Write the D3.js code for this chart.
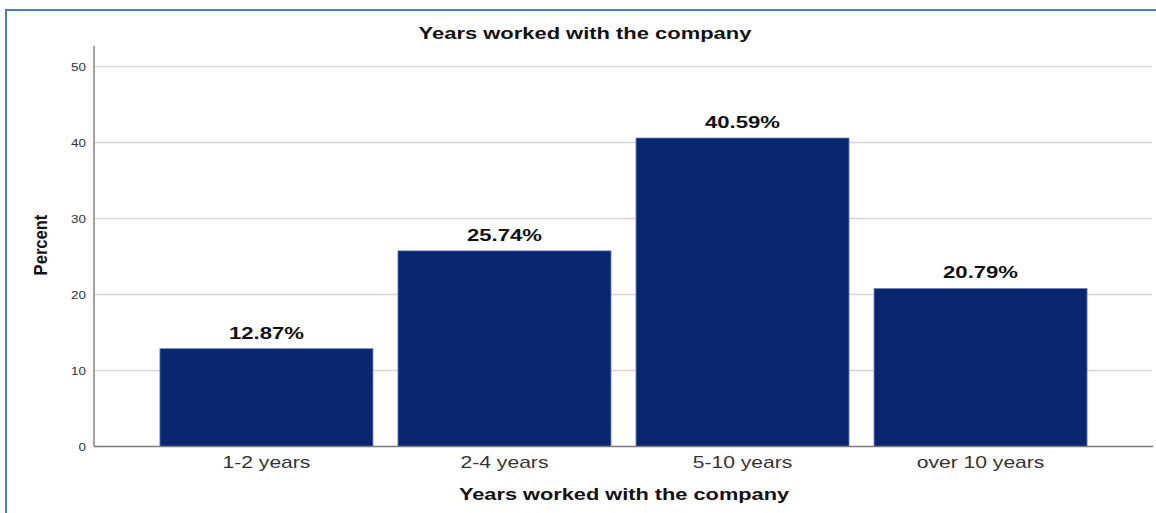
<!DOCTYPE html>
<html>
<head>
<meta charset="utf-8">
<script src="https://cdn.jsdelivr.net/npm/d3@7"></script>
<style>
  html, body { margin: 0; padding: 0; background: #fff; }
  svg { display: block; }
  text { font-family: "Liberation Sans", Arial, sans-serif; }
</style>
</head>
<body>
<svg id="chart" width="1156" height="513"></svg>
<script>
// Share of respondents by tenure with the company
const categories = ["1-2 years", "2-4 years", "5-10 years", "over 10 years"];
const percents = [12.87, 25.74, 40.59, 20.79];
const yTicks = [0, 10, 20, 30, 40, 50];
const chartTitle = "Years worked with the company";
const xTitle = "Years worked with the company";
const yTitle = "Percent";

const svg = d3.select("#chart");
const W = 1156, H = 513;

// widen glyphs horizontally (the chart's text is set in a wide face)
function widen(sel, k) {
  sel.each(function () {
    const len = this.getComputedTextLength();
    d3.select(this).attr("textLength", len * k).attr("lengthAdjust", "spacingAndGlyphs");
  });
}

// frame: blue rule along the top and left
svg.append("line").attr("x1", 5).attr("x2", W).attr("y1", 10).attr("y2", 10)
  .attr("stroke", "#4a7bd0").attr("stroke-width", 2);
svg.append("line").attr("x1", 6).attr("x2", 6).attr("y1", 9).attr("y2", H)
  .attr("stroke", "#4a7bd0").attr("stroke-width", 2);

const plot = { left: 94, right: 1153, top: 46, bottom: 446.5 };

const x = d3.scaleBand()
  .domain(categories)
  .range([plot.left, plot.right])
  .paddingInner(0.105)
  .paddingOuter(0.277);

const y = d3.scaleLinear()
  .domain([0, 50])
  .range([plot.bottom, 66.5]);

// horizontal gridlines
svg.append("g").selectAll("line")
  .data(yTicks.filter(t => t > 0))
  .join("line")
  .attr("x1", plot.left).attr("x2", 1152)
  .attr("y1", d => y(d)).attr("y2", d => y(d))
  .attr("stroke", "#d6d6d6").attr("stroke-width", 1.5);

// y axis with tick labels
const yAxis = svg.append("g")
  .attr("transform", `translate(${plot.left},0)`)
  .call(d3.axisLeft(y).tickValues(yTicks).tickSize(0).tickPadding(8));
yAxis.select(".domain").remove();
yAxis.selectAll("text")
  .attr("font-family", "'Liberation Sans', Arial, sans-serif")
  .attr("font-size", 11).attr("fill", "#333")
  .call(widen, 1.22);
svg.append("line")
  .attr("x1", plot.left).attr("x2", plot.left)
  .attr("y1", plot.top).attr("y2", plot.bottom)
  .attr("stroke", "#a3a3a3").attr("stroke-width", 2);

// bars
svg.append("g").selectAll("rect")
  .data(percents)
  .join("rect")
  .attr("x", (d, i) => x(categories[i]))
  .attr("width", x.bandwidth())
  .attr("y", d => y(d))
  .attr("height", d => y(0) - y(d))
  .attr("fill", "#0b2670")
  .attr("stroke", "#6f83b4").attr("stroke-width", 0.8);

// baseline
svg.append("line")
  .attr("x1", plot.left).attr("x2", plot.right)
  .attr("y1", y(0)).attr("y2", y(0))
  .attr("stroke", "#7a7a7a").attr("stroke-width", 1.5);

// value labels
svg.append("g").selectAll("text")
  .data(percents)
  .join("text")
  .attr("x", (d, i) => x(categories[i]) + x.bandwidth() / 2)
  .attr("y", d => y(d) - 10)
  .attr("text-anchor", "middle")
  .attr("font-size", 17).attr("font-weight", "bold").attr("fill", "#111")
  .text(d => d.toFixed(2) + "%")
  .call(widen, 1.3);

// x axis category labels
const xAxis = svg.append("g")
  .attr("transform", `translate(0,${plot.bottom})`)
  .call(d3.axisBottom(x).tickSize(0).tickPadding(21));
xAxis.select(".domain").remove();
xAxis.selectAll("text")
  .attr("font-family", "'Liberation Sans', Arial, sans-serif")
  .attr("font-size", 17).attr("fill", "#333")
  .attr("dy", 0)
  .call(widen, 1.24);

// titles
svg.append("text")
  .attr("x", 585).attr("y", 39)
  .attr("text-anchor", "middle")
  .attr("font-size", 17).attr("font-weight", "bold").attr("fill", "#111")
  .text(chartTitle)
  .call(widen, 1.29);

svg.append("text")
  .attr("x", 624).attr("y", 500)
  .attr("text-anchor", "middle")
  .attr("font-size", 17).attr("font-weight", "bold").attr("fill", "#111")
  .text(xTitle)
  .call(widen, 1.28);

svg.append("text")
  .attr("transform", "translate(47,245) rotate(-90)")
  .attr("text-anchor", "middle")
  .attr("font-size", 18).attr("font-weight", "bold").attr("fill", "#111")
  .text(yTitle)
  .call(widen, 0.92);
</script>
</body>
</html>
